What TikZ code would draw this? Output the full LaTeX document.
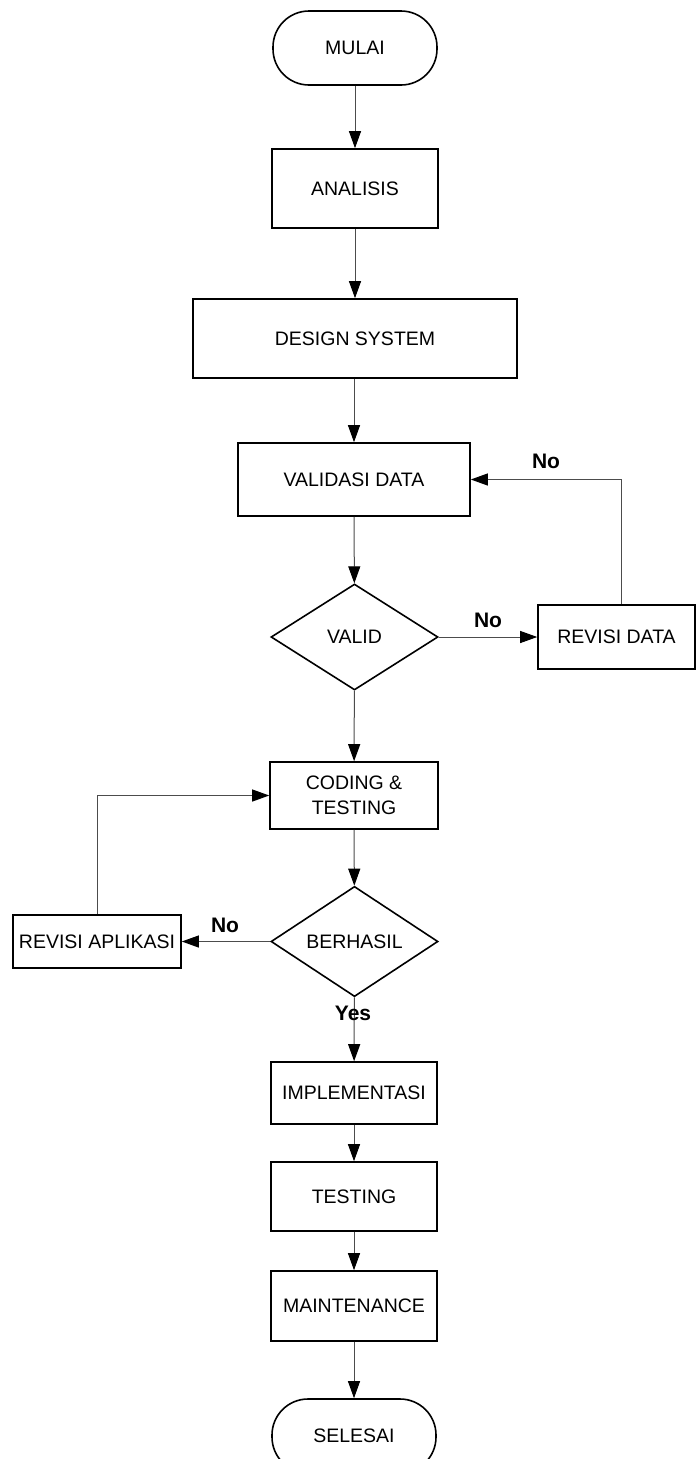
\documentclass[tikz,border=0pt]{standalone}
\usepackage{fontspec}
\setmainfont{Liberation Sans}
\usetikzlibrary{shapes.geometric,arrows.meta,calc}
\begin{document}
\begin{tikzpicture}[x=1pt,y=-1pt,
  box/.style={draw=black,line width=1.6pt,rectangle,inner sep=0pt,font=\fontsize{19.5}{25}\selectfont,align=center},
  term/.style={box,rounded corners=36pt},
  dec/.style={draw=black,line width=1.6pt,diamond,inner sep=0pt,font=\fontsize{19.5}{25}\selectfont},
  conn/.style={draw=black!70,line width=1pt,-{Triangle[length=17pt,width=12pt,color=black]}},
  lbl/.style={font=\bfseries\fontsize{21}{25}\selectfont,inner sep=0pt}]
\useasboundingbox (0,0) rectangle (696,1459);
\clip (0,0) rectangle (696,1459);
\node[term,minimum width=164pt,minimum height=74pt] (mulai) at (355,48) {MULAI};
\node[box,minimum width=166pt,minimum height=79pt] (analisis) at (355,188.5) {ANALISIS};
\node[box,minimum width=324pt,minimum height=79pt] (design) at (355,338.5) {DESIGN SYSTEM};
\node[box,minimum width=232pt,minimum height=73pt] (validasi) at (354,479.5) {VALIDASI DATA};
\node[dec,minimum width=167pt,minimum height=106pt] (valid) at (354.5,637) {VALID};
\node[box,minimum width=157pt,minimum height=64pt] (revdata) at (616.5,637) {REVISI DATA};
\node[box,minimum width=168pt,minimum height=67pt] (coding) at (354,795.5) {CODING \&\\TESTING};
\node[dec,minimum width=167pt,minimum height=107pt] (berhasil) at (354.5,941.5) {BERHASIL};
\node[box,minimum width=168pt,minimum height=53pt] (revapp) at (97,941.5) {REVISI APLIKASI};
\node[box,minimum width=166pt,minimum height=62pt] (impl) at (354,1093) {IMPLEMENTASI};
\node[box,minimum width=166pt,minimum height=69pt] (testing) at (354,1196.5) {TESTING};
\node[box,minimum width=166pt,minimum height=70pt] (maint) at (354,1306) {MAINTENANCE};
\node[term,minimum width=164pt,minimum height=74pt] (selesai) at (354,1436) {SELESAI};

\draw[conn] (mulai) -- (analisis);
\draw[conn] (analisis) -- (design);
\draw[conn] (design.south -| validasi.north) -- (validasi);
\draw[conn] (validasi) -- (valid);
\draw[conn] (valid) -- (revdata);
\draw[conn] ([xshift=5pt]revdata.north) |- (validasi.east);
\draw[conn] (valid) -- (coding);
\draw[conn] (coding) -- (berhasil);
\draw[conn] (berhasil) -- (revapp);
\draw[conn] (revapp.north) |- (coding.west);
\draw[conn] (berhasil) -- (impl);
\draw[conn] (impl) -- (testing);
\draw[conn] (testing) -- (maint);
\draw[conn] (maint) -- (selesai);

\node[lbl] (no1) at (488,620) {No};
\node[lbl] (no2) at (546,461) {No};
\node[lbl] (no3) at (225,925) {No};
\node[lbl] (yes) at (353,1013) {Yes};
\end{tikzpicture}
\end{document}
